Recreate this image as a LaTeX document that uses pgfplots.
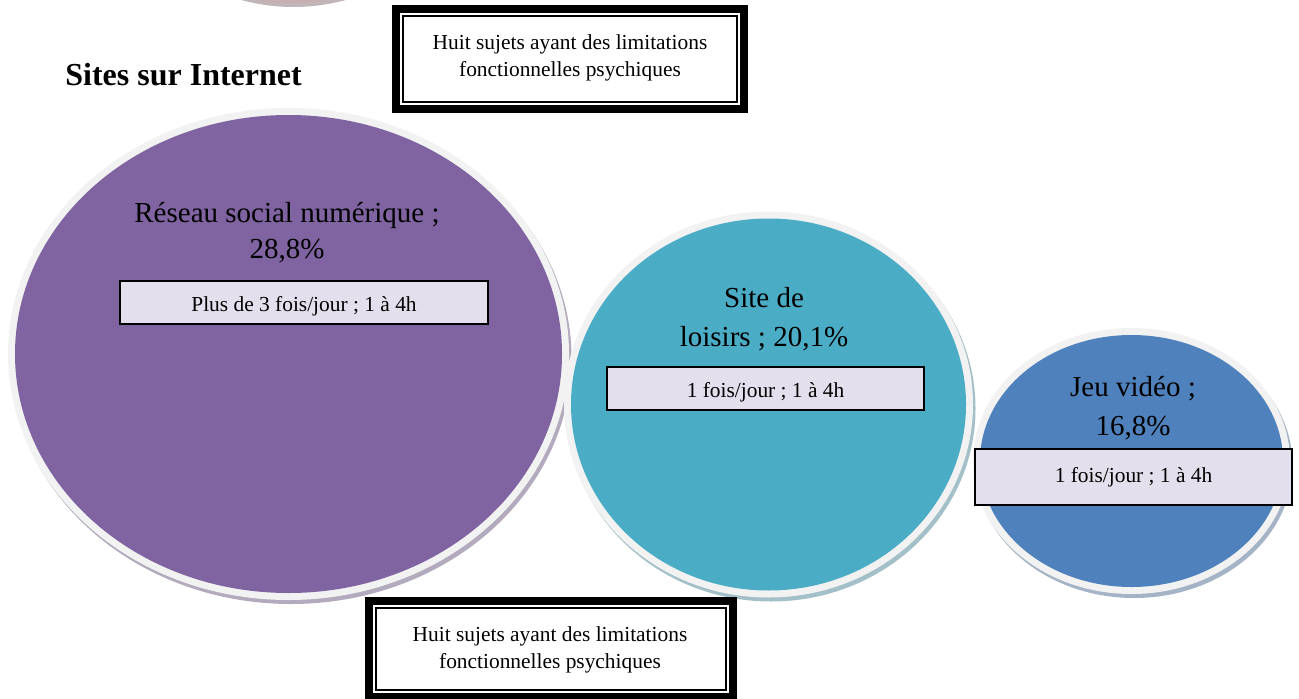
\documentclass[border=0pt]{standalone}
\usepackage{fontspec}
\setmainfont{Liberation Serif}
\usepackage{pgfplots}
\usepackage{pgfplotstable}
\pgfplotsset{compat=1.18}
\definecolor{bpurple}{HTML}{8064A2}
\definecolor{bteal}{HTML}{4BACC6}
\definecolor{bblue}{HTML}{4F81BD}
\definecolor{bmauve}{HTML}{B08A90}
\definecolor{rimgray}{HTML}{F2F2F2}
\definecolor{lblfill}{HTML}{E4DFEC}

% bubble centres and radii in pixel units (y measured upward); c = colour index
\pgfplotstableread{
x y rx ry share c
288.5 344 273.5 239 28.8 0
768.5 293.5 197.5 186 20.1 1
1131.5 237 151.5 126 16.8 2
291 898 193 196 0 3
}\bubbles

\begin{document}
\begin{tikzpicture}
\begin{axis}[x=0.5pt,y=0.5pt,xmin=0,xmax=1299,ymin=0,ymax=698,
  hide axis,clip=false,set layers]
\addplot[scatter, only marks, mark=*, mark size=0pt,
  visualization depends on={\thisrow{rx}\as\rx},
  visualization depends on={\thisrow{ry}\as\ry},
  visualization depends on={\thisrow{c}\as\ci},
  scatter/@pre marker code/.code={
    \pgfmathtruncatemacro\cidx{\ci}
    \def\rimcol{rimgray}
    \ifcase\cidx \def\bcol{bpurple}\or \def\bcol{bteal}\or \def\bcol{bblue}\else \def\bcol{bmauve}\def\rimcol{bmauve!70!white}\fi
    \path[draw=none, fill=\bcol!50!gray!60!white, fill opacity=1] (1.25pt,-2pt) ellipse [x radius={\rx*0.5pt+3.5pt}, y radius={\ry*0.5pt+3.5pt}];
    \path[draw=none, fill=\rimcol, fill opacity=1] (0,0) ellipse [x radius={\rx*0.5pt+3.5pt}, y radius={\ry*0.5pt+3.5pt}];
    \path[draw=none, fill=\bcol, fill opacity=1] (0,0) ellipse [x radius={\rx*0.5pt}, y radius={\ry*0.5pt}];
  },
  scatter/@post marker code/.code={}]
  table[x=x,y=y]{\bubbles};

\begin{pgfonlayer}{axis foreground}
\node[anchor=west, inner sep=0, font=\fontsize{16}{19}\selectfont\bfseries] at (axis cs:65,623) {Sites sur Internet};

% top framed box
\draw[line width=4pt, fill=white] (axis cs:396,689) rectangle (axis cs:744,589);
\draw[line width=1pt] (axis cs:403,682) rectangle (axis cs:737,596);
\node[align=center, font=\fontsize{10.7}{13.5}\selectfont] at (axis cs:570,640.5) {Huit sujets ayant des limitations\\fonctionnelles psychiques};

% bottom framed box
\draw[line width=4pt, fill=white] (axis cs:369,97) rectangle (axis cs:733,1);
\draw[line width=1pt] (axis cs:376,90) rectangle (axis cs:726,8);
\node[align=center, font=\fontsize{10.7}{13.5}\selectfont] at (axis cs:550,48.5) {Huit sujets ayant des limitations\\fonctionnelles psychiques};

% purple bubble labels
\node[align=center, font=\fontsize{14.5}{18}\selectfont] at (axis cs:287,465) {Réseau social numérique ;\\28,8\%};
\draw[fill=lblfill, line width=1pt] (axis cs:120,417) rectangle (axis cs:488,374);
\node[font=\fontsize{10.7}{13}\selectfont] at (axis cs:304,391.5) {Plus de 3 fois/jour ; 1 à 4h};

% teal bubble labels
\node[align=center, font=\fontsize{14.5}{19.5}\selectfont] at (axis cs:764,378.5) {Site de\\loisirs ; 20,1\%};
\draw[fill=lblfill, line width=1pt] (axis cs:607,331) rectangle (axis cs:924,288);
\node[font=\fontsize{10.7}{13}\selectfont] at (axis cs:765.5,305.5) {1 fois/jour ; 1 à 4h};

% blue bubble labels
\node[align=center, font=\fontsize{14.5}{19.5}\selectfont] at (axis cs:1133,290) {Jeu vidéo ;\\16,8\%};
\draw[fill=lblfill, line width=1pt] (axis cs:975,249) rectangle (axis cs:1292,193);
\node[font=\fontsize{10.7}{13}\selectfont] at (axis cs:1133.5,221) {1 fois/jour ; 1 à 4h};
\end{pgfonlayer}
\end{axis}
\pgfresetboundingbox
\path (current axis.south west) rectangle (current axis.north east);
\end{tikzpicture}
\end{document}
